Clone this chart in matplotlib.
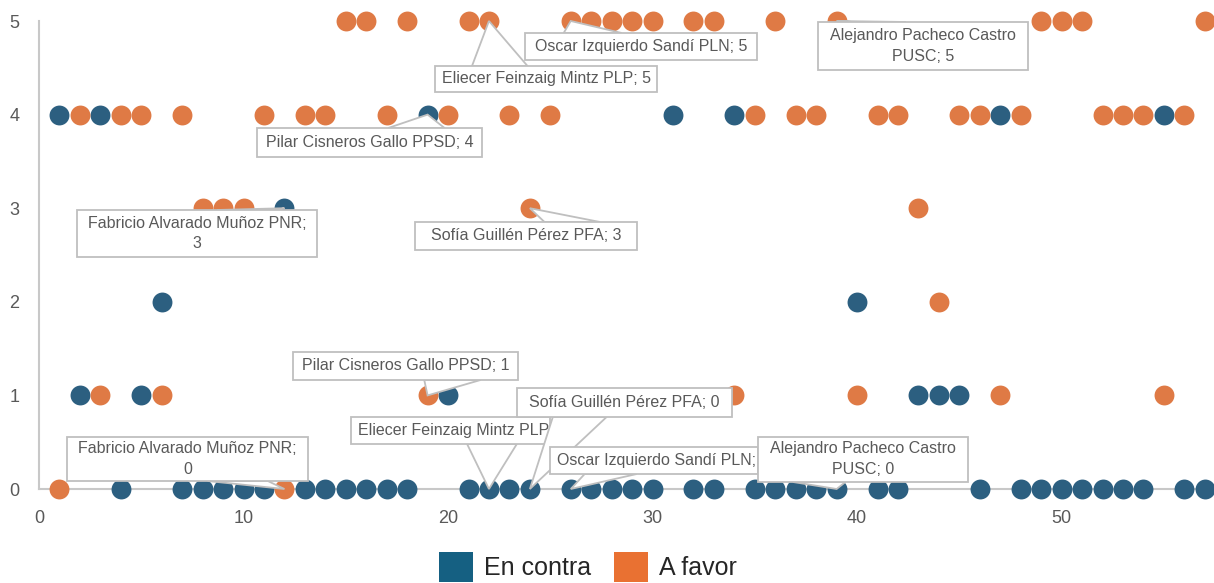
import numpy as np
import matplotlib
matplotlib.use("Agg")
import matplotlib.pyplot as plt
from matplotlib.patches import Patch, Rectangle, Polygon
from matplotlib.transforms import IdentityTransform

nan = np.nan

# ---------------- data ----------------
diputado = list(range(1, 58))
en_contra = [4, 1, 4, 0, 1, 2, 0, 0, 0, 0,
             0, 3, 0, 0, 0, 0, 0, 0, 4, 1,
             0, 0, 0, 0, nan, 0, 0, 0, 0, 0,
             4, 0, 0, 4, 0, 0, 0, 0, 0, 2,
             0, 0, 1, 1, 1, 0, 4, 0, 0, 0,
             0, 0, 0, 0, 4, 0, 0]
a_favor = [0, 4, 1, 4, 4, 1, 4, 3, 3, 3,
           4, 0, 4, 4, 5, 5, 4, 5, 1, 4,
           5, 5, 4, 3, 4, 5, 5, 5, 5, 5,
           nan, 5, 5, 1, 4, 5, 4, 4, 5, 1,
           4, 4, 3, 2, 4, 4, 1, 4, 5, 5,
           5, 4, 4, 4, 1, 4, 5]
series_names = ["En contra", "A favor"]
x_ticks = [0, 10, 20, 30, 40, 50]
y_ticks = [0, 1, 2, 3, 4, 5]

# labelled deputies
nombres = ["Fabricio Alvarado Muñoz PNR;", "Pilar Cisneros Gallo PPSD",
           "Eliecer Feinzaig Mintz PLP", "Sofía Guillén Pérez PFA",
           "Oscar Izquierdo Sandí PLN", "Alejandro Pacheco Castro\nPUSC"]
nombres_x = [12, 19, 22, 24, 26, 39]

# label boxes (layout, picture pixels: left, top, right, bottom)
box_contra = [(77, 210, 317, 257), (257, 128, 482, 157), (351, 417, 550, 444),
              (517, 388, 732, 417), (550, 447, 758, 474), (758, 437, 968, 482)]
box_favor = [(67, 437, 308, 481), (293, 352, 518, 380), (435, 66, 657, 92),
             (415, 222, 637, 250), (525, 33, 757, 60), (818, 22, 1028, 70)]
clipped_contra = [False, False, True, False, True, False]

# ---------------- style ----------------
FONT = ["Liberation Sans", "DejaVu Sans"]
plt.rcParams["font.family"] = FONT
C_BLUE = "#2c5f80"
C_ORANGE = "#df7a45"
L_BLUE = "#156082"
L_ORANGE = "#e97132"
GRAY_TXT = "#595959"
GRAY_LINE = "#c8c8c8"
BOX_EC = "#bfbfbf"

W, H = 1214, 583
fig = plt.figure(figsize=(W / 100, H / 100), dpi=100)
ax = fig.add_axes([39 / W, (H - 489) / H, (W - 39) / W, (489 - 21) / H])

ax.scatter(diputado, en_contra, s=205, color=C_BLUE, linewidths=0,
           clip_on=False, zorder=3)
ax.scatter(diputado, a_favor, s=205, color=C_ORANGE, linewidths=0,
           clip_on=False, zorder=4)

ax.set_xlim(0, 57.45)
ax.set_ylim(0, 5)
ax.set_xticks(x_ticks)
ax.set_yticks(y_ticks)
ax.tick_params(axis="both", length=0, labelsize=13, labelcolor=GRAY_TXT)
ax.tick_params(axis="x", pad=15)
ax.tick_params(axis="y", pad=14)
for s in ["top", "right"]:
    ax.spines[s].set_visible(False)
for s in ["left", "bottom"]:
    ax.spines[s].set_color(GRAY_LINE)
    ax.spines[s].set_linewidth(1.5)

vals_c = dict(zip(diputado, en_contra))
vals_f = dict(zip(diputado, a_favor))
IDT = IdentityTransform()


def callout(txt, xv, yv, box, z, clipped=False):
    x0, y0, x1, y1 = box
    w, h = x1 - x0, y1 - y0
    cx, cy = (x0 + x1) / 2, (y0 + y1) / 2
    tdx, tdy = ax.transData.transform((xv, yv))
    tx, ty = tdx, H - tdy  # picture coords (y down)
    dx, dy = tx - cx, ty - cy
    inside = (x0 <= tx <= x1) and (y0 <= ty <= y1)
    if not inside:
        if abs(dx) * h > abs(dy) * w:
            xe = x1 if dx > 0 else x0
            if dy < 0:
                b1, b2 = (xe, y0 + h * 2 / 12), (xe, y0 + h * 5 / 12)
            else:
                b1, b2 = (xe, y0 + h * 7 / 12), (xe, y0 + h * 10 / 12)
        else:
            ye = y0 if dy < 0 else y1
            if dx < 0:
                b1, b2 = (x0 + w * 2 / 12, ye), (x0 + w * 5 / 12, ye)
            else:
                b1, b2 = (x0 + w * 7 / 12, ye), (x0 + w * 10 / 12, ye)
        pts = [(b1[0], H - b1[1]), (tx, H - ty), (b2[0], H - b2[1])]
        ax.add_patch(Polygon(pts, closed=True, fc="white", ec=BOX_EC, lw=1.3,
                             transform=IDT, clip_on=False, zorder=z))
    rect = Rectangle((x0, H - y1), w, h, fc="white", ec=BOX_EC, lw=1.3,
                     transform=IDT, clip_on=False, zorder=z + 0.01)
    ax.add_patch(rect)
    if clipped:
        t = ax.text(x0 + 7, H - cy, txt, transform=IDT, ha="left", va="center",
                    fontsize=11.5, color=GRAY_TXT, zorder=z + 0.02)
    else:
        t = ax.text(cx, H - cy, txt, transform=IDT, ha="center", va="center",
                    multialignment="center", linespacing=1.5,
                    fontsize=11.5, color=GRAY_TXT, zorder=z + 0.02)
    t.set_clip_on(True)
    t.set_clip_path(rect)


def make_text(name, v):
    if name.endswith(";"):
        return f"{name}\n{int(v)}"
    return f"{name}; {int(v)}"


z = 10
for nm, xv, bx, cl in zip(nombres, nombres_x, box_contra, clipped_contra):
    callout(make_text(nm, vals_c[xv]), xv, vals_c[xv], bx, z, cl)
    z += 1
for nm, xv, bx in zip(nombres, nombres_x, box_favor):
    callout(make_text(nm, vals_f[xv]), xv, vals_f[xv], bx, z)
    z += 1

handles = [Patch(facecolor=L_BLUE, edgecolor="none"),
           Patch(facecolor=L_ORANGE, edgecolor="none")]
fig.legend(handles, series_names, loc="center", ncol=2,
           bbox_to_anchor=(588 / W, (H - 567) / H), frameon=False,
           fontsize=18, handlelength=1.35, handleheight=1.45,
           handletextpad=0.45, columnspacing=0.9, labelcolor="#262626")

fig.savefig("out.png", dpi=100)
